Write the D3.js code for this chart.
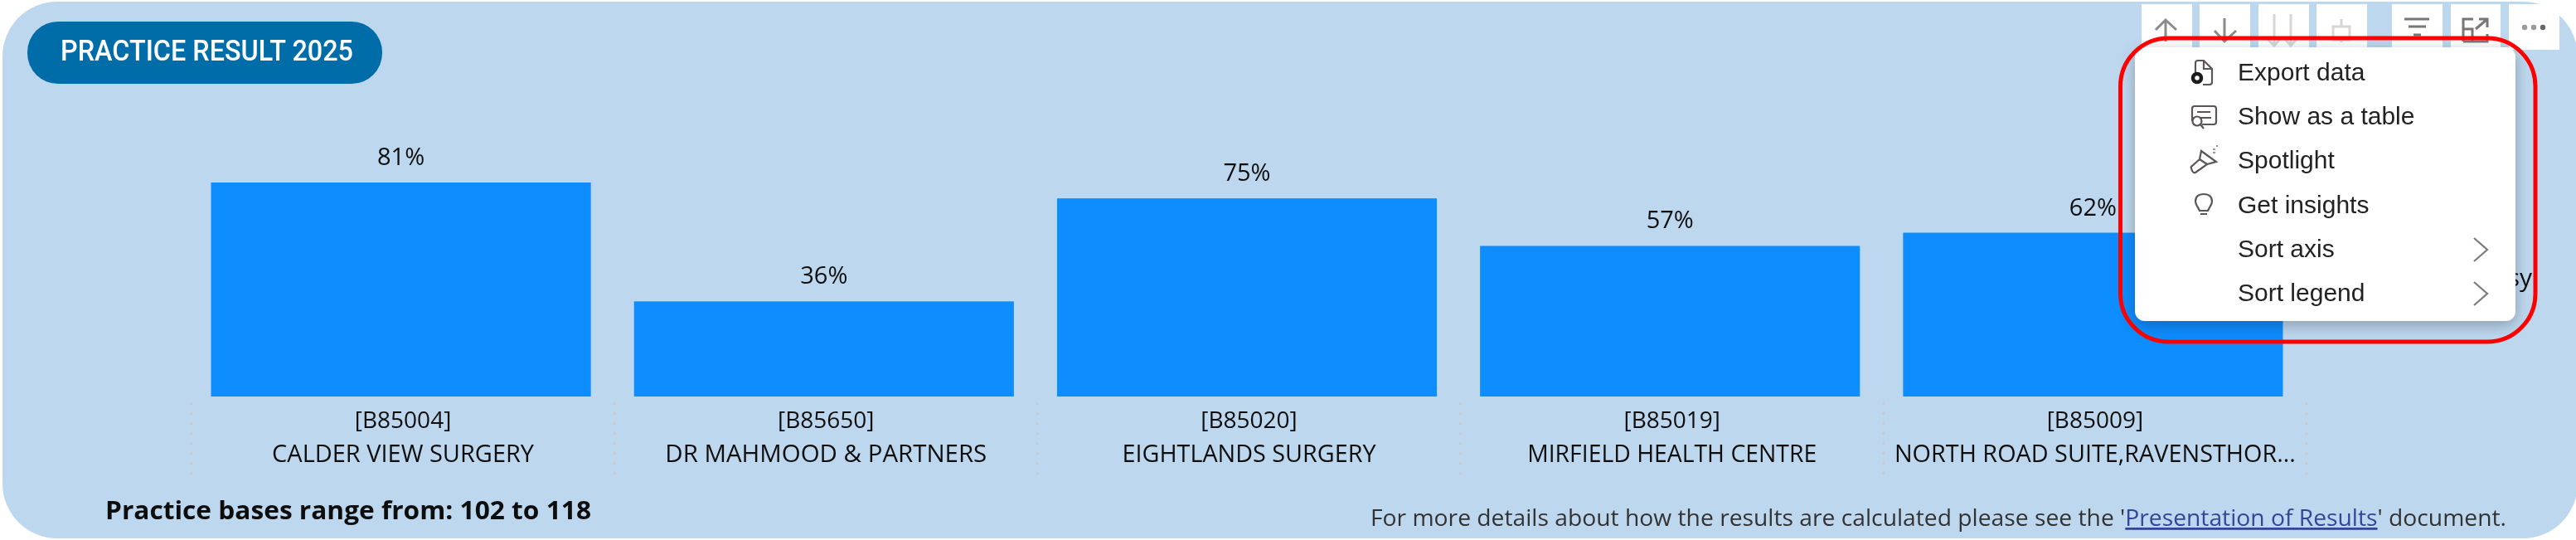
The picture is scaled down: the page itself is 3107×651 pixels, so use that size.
<!DOCTYPE html>
<html>
<head>
<meta charset="utf-8">
<script src="https://cdn.jsdelivr.net/npm/d3@7"></script>
<style>
  html, body { margin: 0; padding: 0; background: #fff; overflow: hidden; }
  svg { display: block; }
  .cat { font-family: "Open Sans", sans-serif; fill: #111; }
  .menu-item { font-family: "Liberation Sans", sans-serif; font-size: 30px; fill: #222; }
</style>
</head>
<body>
<svg id="chart" width="3107" height="651"></svg>
<script>
const codes = ["[B85004]", "[B85650]", "[B85020]", "[B85019]", "[B85009]"];
const practices = ["CALDER VIEW SURGERY", "DR MAHMOOD & PARTNERS", "EIGHTLANDS SURGERY", "MIRFIELD HEALTH CENTRE", "NORTH ROAD SUITE,RAVENSTHOR..."];
const results = [81, 36, 75, 57, 62];
const practiceWidths = [316, 388, 306, 349, 484];
const menuItems = ["Export data", "Show as a table", "Spotlight", "Get insights", "Sort axis", "Sort legend"];

const svg = d3.select("#chart");
const defs = svg.append("defs");
const shadow = defs.append("filter").attr("id", "menu-shadow")
    .attr("x", "-10%").attr("y", "-10%").attr("width", "120%").attr("height", "125%");
shadow.append("feDropShadow").attr("dx", 0).attr("dy", 5).attr("stdDeviation", 9)
    .attr("flood-color", "#000").attr("flood-opacity", 0.28);
// the reference is an upscaled screenshot, so everything is a touch soft
defs.append("filter").attr("id", "soft")
    .attr("filterUnits", "userSpaceOnUse")
    .attr("x", 0).attr("y", 0).attr("width", 3107).attr("height", 651)
    .append("feGaussianBlur").attr("stdDeviation", 0.6);

const root = svg.append("g").attr("filter", "url(#soft)");

// panel
root.append("rect").attr("x", 3).attr("y", 2).attr("width", 3106).attr("height", 647)
    .attr("rx", 66).attr("ry", 66).attr("fill", "#bdd7ee");

// title pill
root.append("rect").attr("x", 33).attr("y", 26).attr("width", 428).attr("height", 75)
    .attr("rx", 37).attr("fill", "#006ca8");
root.append("text").text("PRACTICE RESULT 2025")
    .attr("x", 73).attr("y", 73)
    .attr("textLength", 353).attr("lengthAdjust", "spacingAndGlyphs")
    .attr("font-family", "Roboto").attr("font-weight", 500).attr("font-size", 35)
    .attr("fill", "#fff");

// scales
const x = d3.scaleBand().domain(codes).range([229, 2779]).paddingInner(0.102).paddingOuter(0.05);
const y = d3.scaleLinear().domain([0, 100]).range([478, 159.5]);
const labelShift = 2.5;

const groups = root.append("g").selectAll("g").data(codes).join("g");

groups.append("rect")
    .attr("x", d => x(d))
    .attr("width", x.bandwidth())
    .attr("y", (d, i) => y(results[i]))
    .attr("height", (d, i) => y(0) - y(results[i]))
    .attr("fill", "#118dff");

groups.append("text").attr("class", "cat")
    .text((d, i) => results[i] + "%")
    .attr("x", d => x(d) + x.bandwidth() / 2)
    .attr("y", (d, i) => y(results[i]) - 21)
    .attr("text-anchor", "middle").attr("font-size", 29);

groups.append("text").attr("class", "cat")
    .text(d => d)
    .attr("x", d => x(d) + x.bandwidth() / 2 + labelShift)
    .attr("y", 516)
    .attr("text-anchor", "middle").attr("font-size", 28);

groups.append("text").attr("class", "cat")
    .text((d, i) => practices[i])
    .attr("x", d => x(d) + x.bandwidth() / 2 + labelShift)
    .attr("y", 557)
    .attr("text-anchor", "middle").attr("font-size", 29)
    .attr("textLength", (d, i) => practiceWidths[i]).attr("lengthAdjust", "spacingAndGlyphs");

// dotted separators
const seps = codes.map(d => x(d) - 23.5).concat([x(codes[4]) + x.step() - 23.5]);
root.append("g").selectAll("line").data(seps).join("line")
    .attr("x1", d => d).attr("x2", d => d).attr("y1", 485).attr("y2", 573)
    .attr("stroke", "#cfc8c6").attr("stroke-width", 2.5).attr("stroke-dasharray", "3 9");

// clipped legend text behind the menu
root.append("text").text("sy").attr("class", "cat")
    .attr("x", 3054).attr("y", 345).attr("text-anchor", "end").attr("font-size", 30);

// footer
root.append("text").text("Practice bases range from: 102 to 118")
    .attr("x", 127).attr("y", 626)
    .attr("textLength", 586).attr("lengthAdjust", "spacingAndGlyphs")
    .attr("font-family", "Open Sans").attr("font-weight", 700).attr("font-size", 30).attr("fill", "#111");

const note = root.append("text").attr("x", 1653).attr("y", 634)
    .attr("textLength", 1370).attr("lengthAdjust", "spacingAndGlyphs")
    .attr("font-family", "Open Sans").attr("font-size", 28).attr("fill", "#333");
note.append("tspan").text("For more details about how the results are calculated please see the '");
note.append("tspan").text("Presentation of Results").attr("fill", "#34459a").attr("text-decoration", "underline");
note.append("tspan").text("' document.");

// toolbar tiles
const tiles = [[2583, 61, 52], [2653, 61, 52], [2724, 61, 52], [2794, 61, 52], [2885, 61, 52], [2956, 60, 52], [3026, 61, 55]];
root.append("g").selectAll("rect").data(tiles).join("rect")
    .attr("x", d => d[0]).attr("y", 5).attr("width", d => d[1]).attr("height", d => d[2]).attr("fill", "#fff");

const icons = root.append("g").attr("fill", "none").attr("stroke-width", 3);
icons.append("path").attr("stroke", "#8a8a8a").attr("d", "M2612 50V24M2600 36L2612 24L2625 36");
icons.append("path").attr("stroke", "#8a8a8a").attr("d", "M2683 22V50M2671 37L2683 50L2697 37");
icons.append("path").attr("stroke", "#d6d6d6").attr("d", "M2743 17V54M2734 46L2743 55L2751 46M2763 17V54M2755 46L2763 55L2771 46");
icons.append("path").attr("stroke", "#d6d6d6").attr("d", "M2824 23V32M2814 32H2834V48H2814ZM2824 48V51");
icons.append("path").attr("stroke", "#777").attr("d", "M2900 23H2930M2905 32H2926M2911 42H2920");
icons.append("path").attr("stroke", "#777").attr("d", "M2971 50V23H2983M3000 41V50H2971M2971 35H2982V50M2990 23H3000V33M3000 23L2986 35");
root.append("g").selectAll("circle").data([3045, 3056, 3067]).join("circle")
    .attr("cx", d => d).attr("cy", 33).attr("r", 3.2)
    .attr("fill", (d, i) => i == 2 ? "#666" : "#999");

// context menu
root.append("rect").attr("x", 2575).attr("y", 57).attr("width", 459).attr("height", 330)
    .attr("rx", 12).attr("fill", "#fff").attr("filter", "url(#menu-shadow)");

const itemY = d3.scalePoint().domain(menuItems).range([97, 363]);
root.append("g").selectAll("text").data(menuItems).join("text")
    .attr("class", "menu-item").text(d => d)
    .attr("x", 2699).attr("y", d => itemY(d));

const menuIcons = root.append("g").attr("fill", "none").attr("stroke", "#5a5656").attr("stroke-width", 2.2);
// export
menuIcons.append("path").attr("d", "M2648 88V76Q2648 73 2651 73H2658L2668 83V99Q2668 102 2665 102H2657M2658 73V83H2668");
menuIcons.append("circle").attr("cx", 2650).attr("cy", 94).attr("r", 5).attr("fill", "#fff").attr("stroke", "#1a1a1a").attr("stroke-width", 4.5);
// table
menuIcons.append("path").attr("d", "M2644 146V131Q2644 128 2647 128H2670Q2673 128 2673 131V147Q2673 150 2670 150H2656M2650 135H2666M2654 142H2667");
menuIcons.append("circle").attr("cx", 2650).attr("cy", 146).attr("r", 5.5);
menuIcons.append("path").attr("d", "M2654 150L2658 155");
// spotlight
menuIcons.append("path").attr("d", "M2655 182L2673 195L2662 198L2648 208Q2646 209 2644 206L2643 203Q2642 201 2644 200L2653 192ZM2653 192L2662 198");
menuIcons.append("path").attr("stroke", "#999").attr("d", "M2669 180H2672M2669 184H2672M2673 176H2675");
// insights
menuIcons.append("path").attr("d", "M2653 254C2651 249 2648 247 2648 243C2648 237 2652 234 2658 234C2664 234 2668 237 2668 243C2668 247 2665 249 2663 254ZM2654 258H2662");
// chevrons
menuIcons.append("path").attr("stroke", "#7a7a7a").attr("d", "M2984 287L3000 301L2984 315M2984 340L3000 354L2984 368");

// red annotation
root.append("rect").attr("x", 2557.5).attr("y", 46).attr("width", 500.5).attr("height", 366)
    .attr("rx", 58).attr("fill", "none").attr("stroke", "#ff0000").attr("stroke-width", 5);
</script>
</body>
</html>
